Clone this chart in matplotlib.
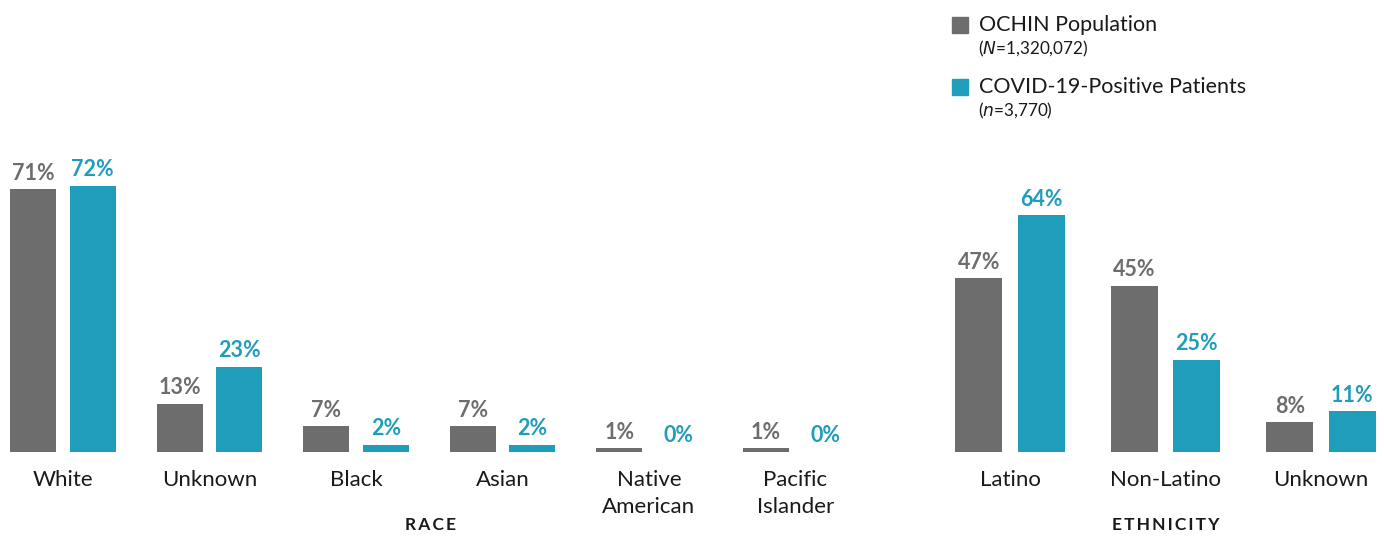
import matplotlib
matplotlib.use("Agg")
import matplotlib.pyplot as plt
import numpy as np

plt.rcParams['font.family'] = ['Lato', 'DejaVu Sans']

race_cats = ["White", "Unknown", "Black", "Asian", "Native\nAmerican", "Pacific\nIslander"]
race_ochin = [71, 13, 7, 7, 1, 1]
race_covid = [72, 23, 2, 2, 0, 0]

eth_cats = ["Latino", "Non-Latino", "Unknown"]
eth_ochin = [47, 45, 8]
eth_covid = [64, 25, 11]

series_names = ["OCHIN Population", "COVID-19-Positive Patients"]
series_notes = [("N", "1,320,072"), ("n", "3,770")]

GRAY = "#6d6d6d"
TEAL = "#209dba"
TEXT = "#1a1a1a"

W, H = 1384, 536
fig = plt.figure(figsize=(W / 100, H / 100), dpi=100)

def px_axes(x0, x1, ybot_px):
    return fig.add_axes([x0 / W, (H - ybot_px) / H, (x1 - x0) / W, ybot_px / H])

SCALE = 3.7  # px per percent
BASE = 452

def draw(ax, cats, a, b, c0, pitch, x0, x1, width, offset):
    x = np.arange(len(cats))
    ax.set_xlim((x0 - c0) / pitch, (x1 - c0) / pitch)
    ax.set_ylim(0, BASE / SCALE)
    ba = ax.bar(x - offset, a, width, color=GRAY)
    bb = ax.bar(x + offset, b, width, color=TEAL)
    for rects, vals, col in ((ba, a, GRAY), (bb, b, TEAL)):
        for r, v in zip(rects, vals):
            ax.annotate(f"{v}%", (r.get_x() + r.get_width() / 2, v),
                        xytext=(0, 4), textcoords="offset points",
                        ha="center", va="bottom", fontsize=15.5,
                        fontweight="bold", color=col)
    ax.set_xticks(x)
    ax.set_xticklabels(cats, fontsize=16, color=TEXT, linespacing=1.45)
    ax.tick_params(axis="x", length=0, pad=13)
    ax.set_yticks([])
    for s in ax.spines.values():
        s.set_visible(False)
    ax.patch.set_alpha(0)

ax1 = px_axes(0, 845, BASE)
draw(ax1, race_cats, race_ochin, race_covid, 63, 146.5, 0, 845, 0.315, 0.203)

ax2 = px_axes(930, 1384, BASE)
draw(ax2, eth_cats, eth_ochin, eth_covid, 1010, 155.5, 930, 1384, 0.303, 0.2)

def ftxt(x, y, s, **kw):
    fig.text(x / W, 1 - y / H, s, **kw)

SP = "\u2009"
ftxt(431, 525, SP.join("RACE"), ha="center", va="center", fontsize=12.5,
     fontweight="bold", color=TEXT)
ftxt(1166, 525, SP.join("ETHNICITY"), ha="center", va="center", fontsize=12.5,
     fontweight="bold", color=TEXT)

# legend
for i, (name, (sym, val), col) in enumerate(zip(series_names, series_notes, [GRAY, TEAL])):
    yc = 25 + 62 * i
    fig.patches.append(plt.Rectangle(((952) / W, 1 - (yc + 8) / H), 16 / W, 16 / H,
                                     transform=fig.transFigure, color=col))
    ftxt(979, yc, name, ha="left", va="center", fontsize=15.5, color=TEXT)
    ftxt(978, yc + 24, f"($\\it{{{sym}}}$=" + val + ")", ha="left", va="center",
         fontsize=12.3, color=TEXT)

fig.savefig("out.png", dpi=100)
